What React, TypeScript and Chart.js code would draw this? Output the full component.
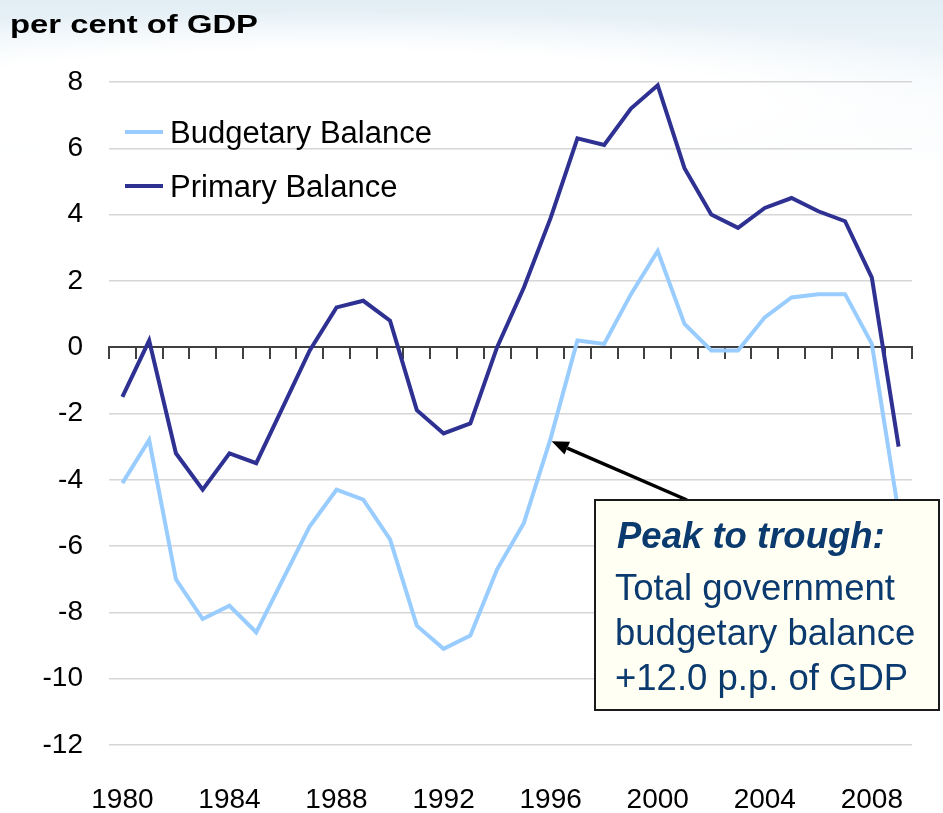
import React, { useEffect, useRef } from 'react';
import { Chart, registerables } from 'chart.js';

Chart.register(...registerables);

const years = [
  '1980', '1981', '1982', '1983', '1984', '1985', '1986', '1987', '1988', '1989',
  '1990', '1991', '1992', '1993', '1994', '1995', '1996', '1997', '1998', '1999',
  '2000', '2001', '2002', '2003', '2004', '2005', '2006', '2007', '2008', '2009',
];
const budgetaryBalance = [
  -4.1, -2.8, -7.0, -8.2, -7.8, -8.6, -7.0, -5.4, -4.3, -4.6,
  -5.8, -8.4, -9.1, -8.7, -6.7, -5.3, -2.75, 0.2, 0.1, 1.6,
  2.9, 0.7, -0.1, -0.1, 0.9, 1.5, 1.6, 1.6, 0.1, -5.0,
];
const primaryBalance = [
  -1.5, 0.2, -3.2, -4.3, -3.2, -3.5, -1.8, -0.1, 1.2, 1.4,
  0.8, -1.9, -2.6, -2.3, 0.0, 1.8, 3.9, 6.3, 6.1, 7.2,
  7.9, 5.4, 4.0, 3.6, 4.2, 4.5, 4.1, 3.8, 2.1, -3.0,
];
const seriesNames = ['Budgetary Balance', 'Primary Balance'];
const seriesColors = ['#99CCFF', '#2E3192'];
const yMin = -12;
const yMax = 8;
const yStep = 2;
const titleText = 'per cent of GDP';
const noteTitle = 'Peak to trough:';
const noteLines = ['Total government', 'budgetary balance', '+12.0 p.p. of GDP'];
const arrowTargetIndex = 16; // 1996 on the budgetary balance line

const FONT = '"Liberation Sans", Arial, Helvetica, sans-serif';

const overlayPlugin = {
  id: 'overlay',
  afterDraw(chart: any) {
    const ctx = chart.ctx as CanvasRenderingContext2D;
    ctx.save();

    // Title
    ctx.fillStyle = '#000';
    ctx.font = `bold 26px ${FONT}`;
    ctx.textBaseline = 'alphabetic';
    ctx.textAlign = 'left';
    const tw = ctx.measureText(titleText).width;
    ctx.save();
    ctx.translate(10, 33);
    ctx.scale(248 / tw, 1);
    ctx.fillText(titleText, 0, 0);
    ctx.restore();

    // Legend
    const legendY = [132, 186];
    const legendBase = [143, 197];
    seriesNames.forEach((name, i) => {
      ctx.strokeStyle = seriesColors[i];
      ctx.lineWidth = 4;
      ctx.lineCap = 'butt';
      ctx.beginPath();
      ctx.moveTo(125, legendY[i]);
      ctx.lineTo(163, legendY[i]);
      ctx.stroke();
      ctx.fillStyle = '#000';
      ctx.font = `31px ${FONT}`;
      ctx.fillText(name, 170, legendBase[i]);
    });

    // Arrow
    const xs = chart.scales.x;
    const ys = chart.scales.y;
    const tipX = xs.getPixelForValue(arrowTargetIndex) + 1;
    const tipY = ys.getPixelForValue(budgetaryBalance[arrowTargetIndex]) + 3;
    const tailX = 687;
    const tailY = 500;
    const ang = Math.atan2(tipY - tailY, tipX - tailX);
    const headLen = 17;
    const headW = 7;
    const bx = tipX - headLen * Math.cos(ang);
    const by = tipY - headLen * Math.sin(ang);
    ctx.strokeStyle = '#000';
    ctx.lineWidth = 3.5;
    ctx.beginPath();
    ctx.moveTo(tailX, tailY);
    ctx.lineTo(bx, by);
    ctx.stroke();
    ctx.fillStyle = '#000';
    ctx.beginPath();
    ctx.moveTo(tipX, tipY);
    ctx.lineTo(bx + headW * Math.sin(ang), by - headW * Math.cos(ang));
    ctx.lineTo(bx - headW * Math.sin(ang), by + headW * Math.cos(ang));
    ctx.closePath();
    ctx.fill();

    // Annotation box
    ctx.fillStyle = '#FFFFF4';
    ctx.fillRect(595, 500, 344, 210);
    ctx.strokeStyle = '#1A1A1A';
    ctx.lineWidth = 2;
    ctx.strokeRect(595, 500, 344, 210);

    ctx.fillStyle = '#0B3A6E';
    ctx.font = `italic bold 36.5px ${FONT}`;
    ctx.fillText(noteTitle, 617, 548);
    ctx.font = `36.5px ${FONT}`;
    const bases = [600, 645, 690];
    noteLines.forEach((t, i) => ctx.fillText(t, 615, bases[i]));

    ctx.restore();
  },
};

export default function App() {
  const ref = useRef<HTMLCanvasElement>(null);

  useEffect(() => {
    if (!ref.current) return;
    const tickFont = { family: FONT, size: 28 };
    const chart = new Chart(ref.current, {
      type: 'line',
      data: {
        labels: years,
        datasets: [
          {
            label: seriesNames[0],
            data: budgetaryBalance,
            borderColor: seriesColors[0],
            backgroundColor: seriesColors[0],
            borderWidth: 4,
            pointRadius: 0,
            tension: 0,
            xAxisID: 'x',
            yAxisID: 'y',
          },
          {
            label: seriesNames[1],
            data: primaryBalance,
            borderColor: seriesColors[1],
            backgroundColor: seriesColors[1],
            borderWidth: 4,
            pointRadius: 0,
            tension: 0,
            xAxisID: 'x',
            yAxisID: 'y',
          },
        ],
      },
      options: {
        responsive: false,
        maintainAspectRatio: false,
        animation: false,
        layout: { padding: { top: 82, right: 31, bottom: 0, left: 0 } },
        plugins: {
          legend: { display: false },
          tooltip: { enabled: false },
          title: { display: false },
        },
        scales: {
          x: {
            type: 'category',
            axis: 'x',
            position: { y: 0 } as any,
            offset: true,
            grid: {
              offset: true,
              drawOnChartArea: false,
              drawTicks: true,
              tickLength: 11,
              color: '#404040',
              lineWidth: 2,
            },
            border: { display: true, color: '#404040', width: 2 },
            ticks: { display: false },
          },
          x2: {
            type: 'category',
            axis: 'x',
            labels: years,
            position: 'bottom',
            offset: true,
            grid: { display: false },
            border: { display: false },
            ticks: {
              autoSkip: false,
              maxRotation: 0,
              minRotation: 0,
              font: tickFont,
              color: '#000',
              padding: 30,
              callback: (_v: any, i: number) => (i % 4 === 0 ? years[i] : ''),
            },
            afterFit: (s: any) => {
              s.height = 68;
            },
          },
          y: {
            min: yMin,
            max: yMax,
            ticks: { stepSize: yStep, font: tickFont, color: '#000', padding: 26 },
            grid: {
              drawTicks: false,
              lineWidth: 1.5,
              color: (c: any) => (c.tick && c.tick.value === 0 ? 'rgba(0,0,0,0)' : '#D6D6D6'),
            },
            border: { display: false },
            afterFit: (s: any) => {
              s.width = 109;
            },
          },
        },
      },
      plugins: [overlayPlugin],
    });
    return () => chart.destroy();
  }, []);

  return (
    <div
      style={{
        position: 'absolute',
        left: 0,
        top: 0,
        width: 943,
        height: 813,
        overflow: 'hidden',
        background:
          'radial-gradient(ellipse 760px 90px at 35% 100px, rgba(255,255,255,1) 55%, rgba(255,255,255,0) 100%), linear-gradient(180deg, #e2eef5 0px, #edf5f9 55px, #f8fbfd 110px, #ffffff 170px)',
      }}
    >
      <canvas ref={ref} width={943} height={813} style={{ display: 'block' }} />
    </div>
  );
}
